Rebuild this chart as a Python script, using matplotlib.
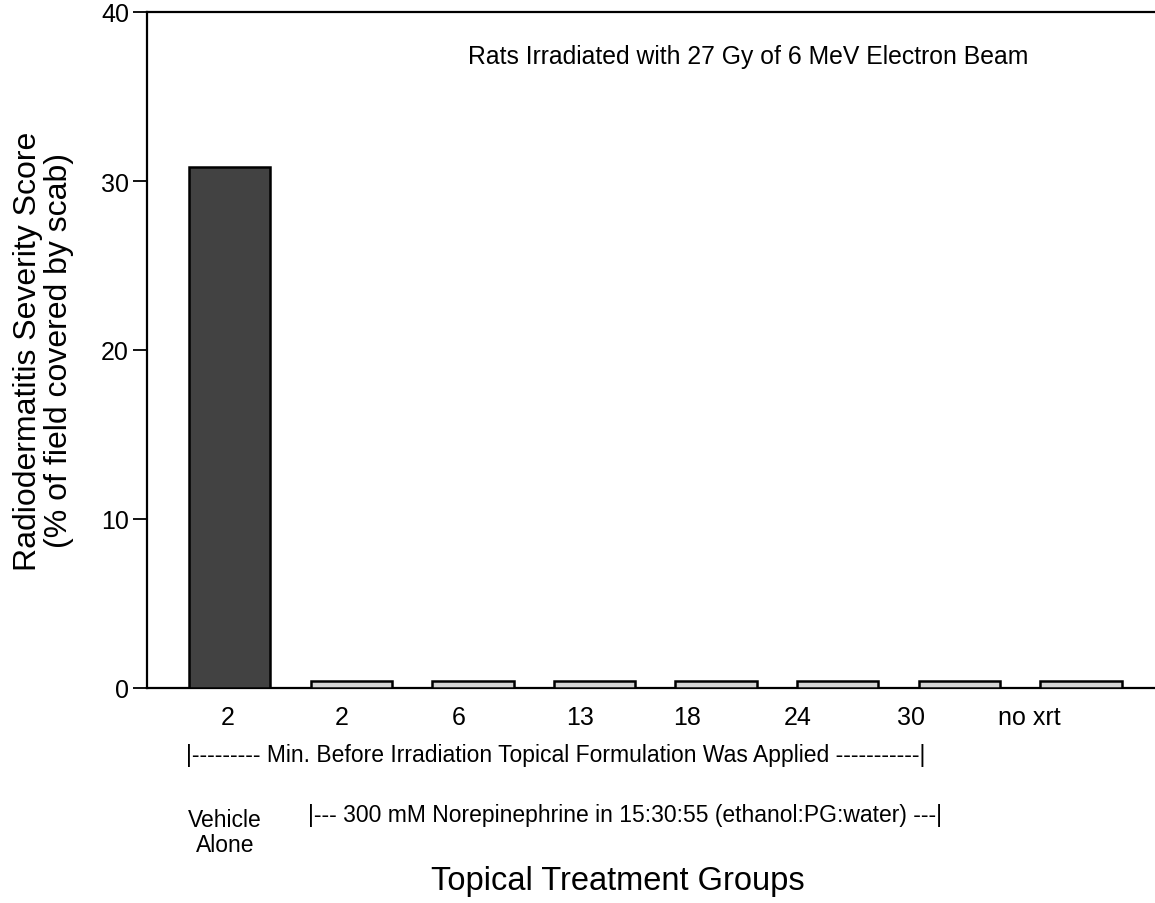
import matplotlib
matplotlib.use("Agg")
import matplotlib.pyplot as plt

# ---- data ----
groups = ["2", "2", "6", "13", "18", "24", "30", "no xrt"]
scores = [30.8, 0.4, 0.4, 0.4, 0.4, 0.4, 0.4, 0.4]
bar_colors = ["#424242"] + ["#d4d4d4"] * 7
yticks = [0, 10, 20, 30, 40]

# ---- layout constants ----
W, H = 1155, 904
label_x = [-0.02, 0.92, 1.88, 2.88, 3.76, 4.67, 5.60, 6.58]  # tick-label positions (data units)

plt.rcParams['font.family'] = ['Liberation Sans', 'DejaVu Sans']

fig = plt.figure(figsize=(W / 100, H / 100), dpi=100)
ax = fig.add_axes([147 / W, 1 - 689 / H, 1 - 147 / W, (689 - 13) / H])

x = list(range(len(groups)))
ax.bar(x, scores, width=0.67, color=bar_colors, edgecolor="black", linewidth=1.8, zorder=3)

ax.set_xlim(-0.68, 7.61)
ax.set_ylim(0, 40)
ax.set_yticks(yticks)
ax.set_yticklabels([str(v) for v in yticks], fontsize=18)
ax.tick_params(axis='y', direction='out', length=10, width=1.3, pad=3)
ax.set_xticks(label_x)
ax.set_xticklabels(groups, fontsize=18)
ax.tick_params(axis='x', length=0, pad=12)

for s in ["left", "bottom", "top"]:
    ax.spines[s].set_linewidth(1.6)
ax.spines["right"].set_visible(False)

ax.set_ylabel("Radiodermatitis Severity Score\n(% of field covered by scab)", fontsize=23,
              linespacing=1.05)
ax.yaxis.set_label_coords(-0.072, 0.5)

def ftext(px, py, s, **kw):
    fig.text(px / W, 1 - py / H, s, **kw)

ftext(468, 57, "Rats Irradiated with 27 Gy of 6 MeV Electron Beam", fontsize=17.8, va="center", ha="left")
ftext(186, 756, "|--------- Min. Before Irradiation Topical Formulation Was Applied -----------|",
      fontsize=16.5, va="center", ha="left")
ftext(225, 833, "Vehicle\nAlone", fontsize=16.5, va="center", ha="center", linespacing=1.1)
ftext(308, 816, "|--- 300 mM Norepinephrine in 15:30:55 (ethanol:PG:water) ---|",
      fontsize=16.5, va="center", ha="left")
ftext(618, 882, "Topical Treatment Groups", fontsize=23.5, va="center", ha="center")

fig.savefig("out.png", dpi=100)
